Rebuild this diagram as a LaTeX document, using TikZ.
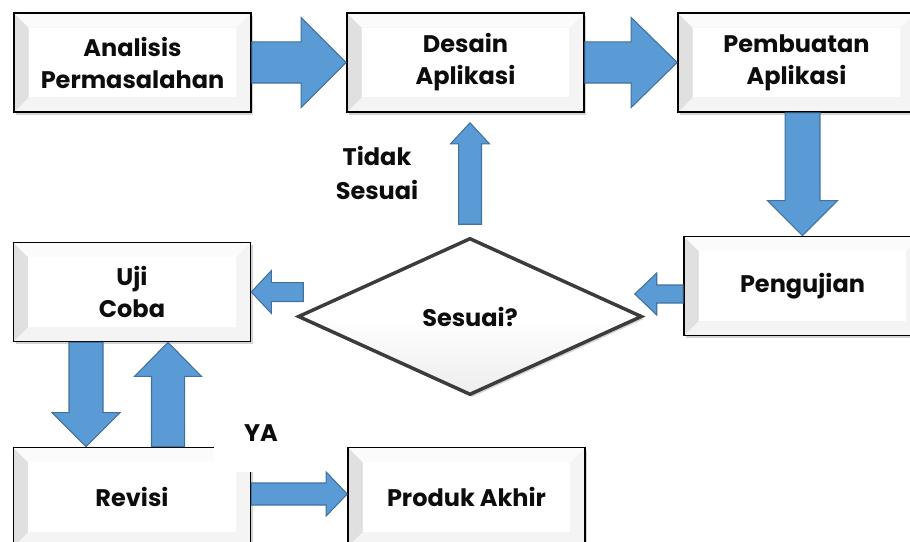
\documentclass[tikz,border=0pt]{standalone}
\usepackage{fontspec}
\setmainfont{Poppins}
\usepackage{tikz}
\usetikzlibrary{calc,shapes.geometric,shadows}
\definecolor{arrowfill}{HTML}{5B9BD5}
\definecolor{arrowdraw}{HTML}{41719C}
\definecolor{diamonddraw}{HTML}{3C3C3C}
\definecolor{textcolor}{HTML}{0D0D0D}
\tikzset{
  stepbox/.style={
    rectangle,
    draw=black,
    fill=white,
    line width=1.2pt,
    minimum width=177.75pt,
    minimum height=74.25pt,
    inner sep=0pt,
    align=center,
    text=textcolor,
    font=\bfseries\fontsize{18}{24}\selectfont,
    drop shadow={shadow xshift=1.6pt,shadow yshift=-2pt,opacity=0.35},
    path picture={
      \fill[gray!9] (path picture bounding box.south west) rectangle (path picture bounding box.north east);
      \fill[gray!24] (path picture bounding box.south west)
        -- ([shift={(11pt,11pt)}]path picture bounding box.south west)
        -- ([shift={(11pt,-11pt)}]path picture bounding box.north west)
        -- (path picture bounding box.north west) -- cycle;
      \fill[gray!3] (path picture bounding box.north west)
        -- (path picture bounding box.north east)
        -- ([shift={(-11pt,-11pt)}]path picture bounding box.north east)
        -- ([shift={(11pt,-11pt)}]path picture bounding box.north west) -- cycle;
      \fill[white] ([shift={(11pt,11pt)}]path picture bounding box.south west)
        rectangle ([shift={(-11pt,-11pt)}]path picture bounding box.north east);
    }
  },
  decision/.style={
    diamond,
    draw=diamonddraw,
    line width=2.6pt,
    top color=white,
    bottom color=gray!14,
    middle color=white,
    minimum width=258pt,
    minimum height=117.75pt,
    inner sep=0pt,
    text=textcolor,
    font=\bfseries\fontsize{18}{22}\selectfont,
    drop shadow={shadow xshift=1.6pt,shadow yshift=-2pt,opacity=0.35}
  },
  blockarrow/.style={
    draw=arrowdraw,
    fill=arrowfill,
    line width=0.8pt,
    line join=miter
  },
  side label/.style={
    align=center,
    inner sep=0pt,
    text=textcolor,
    font=\bfseries\fontsize{18}{25.5}\selectfont
  },
  ya label/.style={
    fill=white,
    inner xsep=0pt,
    inner ysep=0pt,
    minimum width=70pt,
    text height=15pt,
    text depth=23pt,
    text=textcolor,
    font=\bfseries\fontsize{18}{22}\selectfont
  }
}
% start, end, half shaft, half head, head length
\newcommand{\blockarrow}[5]{%
  \coordinate (ba-s) at (#1);
  \coordinate (ba-e) at (#2);
  \coordinate (ba-n) at ($(ba-e)!#5!(ba-s)$);
  \draw[blockarrow] ($(ba-s)!#3!90:(ba-e)$) -- ($(ba-n)!#3!90:(ba-e)$)
    -- ($(ba-n)!#4!90:(ba-e)$) -- (ba-e) -- ($(ba-n)!#4!-90:(ba-e)$)
    -- ($(ba-n)!#3!-90:(ba-e)$) -- ($(ba-s)!#3!-90:(ba-e)$) -- cycle;
}

\begin{document}
\begin{tikzpicture}[x=0.75pt,y=-0.75pt]
  \clip (0,0) rectangle (910,542);

  \node[stepbox] (AP) at (132.5,62.5) {Analisis\\Permasalahan};
  \node[stepbox] (DA) at (465.5,62.5) {Desain\\Aplikasi};
  \node[stepbox] (PA) at (796.5,62.5) {Pembuatan\\Aplikasi};
  \node[stepbox] (PEN) at (802.5,286) {Pengujian};
  \node[decision] (SES) at (470,316.5) {Sesuai?};
  \node[stepbox] (UC) at (132,292) {Uji\\Coba};
  \node[stepbox] (REV) at (132,497) {Revisi};
  \node[stepbox] (PRO) at (466.5,497) {Produk Akhir};

  \blockarrow{AP.east}{DA.west}{15.4pt}{33.75pt}{33.75pt}
  \blockarrow{DA.east}{PA.west}{15.4pt}{33.75pt}{34.5pt}
  \blockarrow{PEN.north |- PA.south}{PEN.north}{13.1pt}{26.25pt}{26.25pt}
  \blockarrow{$(PEN.west)+(0,8)$}{$(SES.east |- PEN.west)+(-9,8)$}{6.75pt}{15.75pt}{16.5pt}
  \blockarrow{$(SES.west |- UC.east)+(7,0)$}{UC.east}{7.1pt}{16pt}{15pt}
  \blockarrow{$(SES.north)+(0,-12)$}{$(SES.north |- DA.south)+(0,10)$}{8.6pt}{14.6pt}{15.75pt}
  \blockarrow{$(UC.south)+(-46,0)$}{$(REV.north)+(-46,0)$}{12.75pt}{25.5pt}{25.5pt}
  \blockarrow{$(REV.north)+(36,0)$}{$(UC.south)+(36,0)$}{12.4pt}{25pt}{25.5pt}
  \blockarrow{$(REV.east)+(0,-3)$}{$(PRO.west)+(0,-3)$}{8.25pt}{16.5pt}{15.75pt}

  \node[side label] (TS) at (377,173) {Tidak\\Sesuai};
  \node[ya label,anchor=base] (YA) at (261,441) {YA};
\end{tikzpicture}
\end{document}
